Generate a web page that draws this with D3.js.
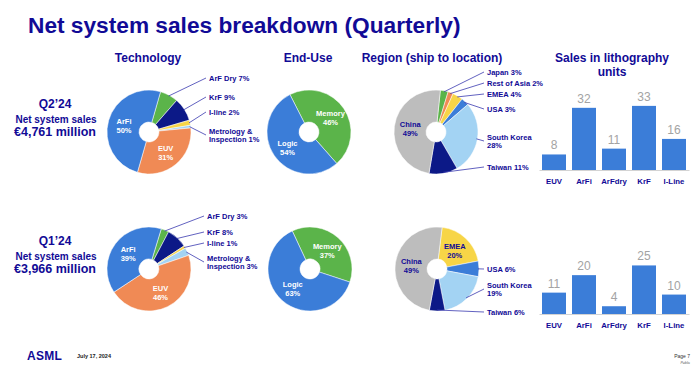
<!DOCTYPE html>
<html>
<head>
<meta charset="utf-8">
<script src="https://cdn.jsdelivr.net/npm/d3@7"></script>
<style>
  body { margin: 0; background: #fff; }
  svg { display: block; font-family: "Liberation Sans", Arial, sans-serif; }
</style>
</head>
<body>
<svg id="chart" width="695" height="387"></svg>
<script>
// data
const quarters = ["Q2\u201924", "Q1\u201924"];
const salesText = ["\u20ac4,761 million", "\u20ac3,966 million"];

const techCats = ["ArF Dry", "KrF", "I-line", "Metrology & Inspection", "EUV", "ArFi"];
const techQ2 = [7, 9, 2, 1, 31, 50];
const techQ1 = [3, 8, 1, 3, 46, 39];

const endCats = ["Memory", "Logic"];
const endQ2 = [46, 54];
const endQ1 = [37, 63];

const regionCatsQ2 = ["Japan", "Rest of Asia", "EMEA", "USA", "South Korea", "Taiwan", "China"];
const regionQ2 = [3, 2, 4, 3, 28, 11, 49];
const regionCatsQ1 = ["EMEA", "USA", "South Korea", "Taiwan", "China"];
const regionQ1 = [20, 6, 19, 6, 49];

const unitCats = ["EUV", "ArFi", "ArFdry", "KrF", "I-Line"];
const unitsQ2 = [8, 32, 11, 33, 16];
const unitsQ1 = [11, 20, 4, 25, 10];

// colours
const navy = "#110a96";
const colors = {
  "ArFi": "#3b7dd8", "EUV": "#f08a55", "ArF Dry": "#5bb44a", "KrF": "#0c1987",
  "I-line": "#f7d547", "Metrology & Inspection": "#a3d3f3",
  "Memory": "#5bb44a", "Logic": "#3b7dd8",
  "China": "#bdbdbd", "Taiwan": "#0c1987", "South Korea": "#a3d3f3", "USA": "#3b7dd8",
  "EMEA": "#f7d547", "Rest of Asia": "#f08a55", "Japan": "#5bb44a"
};

const svg = d3.select("#chart");
const R = 42, HOLE = 10;
const rowY = [132, 269];

// title
svg.append("text").attr("x", 28).attr("y", 33)
  .attr("fill", navy).attr("font-weight", "bold").attr("font-size", 22.7)
  .text("Net system sales breakdown (Quarterly)");

// column headers
const headers = [
  { x: 148, lines: ["Technology"] },
  { x: 308, lines: ["End-Use"] },
  { x: 432, lines: ["Region (ship to location)"] },
  { x: 612, lines: ["Sales in lithography", "units"] }
];
headers.forEach(h => {
  h.lines.forEach((l, i) => {
    svg.append("text").attr("x", h.x).attr("y", 62 + i * 14)
      .attr("text-anchor", "middle").attr("fill", navy)
      .attr("font-weight", "bold").attr("font-size", 12)
      .text(l);
  });
});

// row labels
quarters.forEach((q, i) => {
  const base = [108, 245][i];
  const g = svg.append("g").attr("fill", navy).attr("font-weight", "bold").attr("text-anchor", "middle");
  g.append("text").attr("x", 55).attr("y", base).attr("font-size", 12).text(q);
  g.append("text").attr("x", 56).attr("y", base + 14.5).attr("font-size", 10).text("Net system sales");
  g.append("text").attr("x", 55).attr("y", base + 28).attr("font-size", 12.5).text(salesText[i]);
});

function drawDonut(opts) {
  const g = svg.append("g").attr("transform", `translate(${opts.cx},${opts.cy})`);
  const items = opts.cats.map((c, i) => ({ name: c, value: opts.values[i] }));
  const pie = d3.pie().sort(null).value(d => d.value)
    .startAngle(opts.start).endAngle(opts.start + 2 * Math.PI);
  const arcs = pie(items);
  const arc = d3.arc().innerRadius(HOLE).outerRadius(R);
  const edge = d3.arc().innerRadius(R - 1).outerRadius(R - 1);
  const mid = d3.arc().innerRadius(26).outerRadius(26);

  g.selectAll("path.slice").data(arcs).join("path")
    .attr("class", "slice")
    .attr("d", arc)
    .attr("fill", d => colors[d.data.name])
    .attr("stroke", "#fff").attr("stroke-width", 0.5);

  const inside = arcs.filter(d => opts.inside.includes(d.data.name) && d.data.value >= 10);
  const outside = arcs.filter(d => !inside.includes(d));

  inside.forEach(d => {
    const [x, y] = mid.centroid(d);
    const t = g.append("text").attr("text-anchor", "middle")
      .attr("fill", opts.insideColor).attr("font-weight", "bold").attr("font-size", 7.5);
    t.append("tspan").attr("x", x).attr("y", y - 1).text(d.data.name);
    t.append("tspan").attr("x", x).attr("y", y + 8).text(d.data.value + "%");
  });

  outside.forEach((d, i) => {
    const [sx, sy] = edge.centroid(d);
    const ly = opts.calloutDy[i];
    const lx = opts.calloutDx;
    let lines;
    if (d.data.name === "Metrology & Inspection") lines = ["Metrology &", "Inspection " + d.data.value + "%"];
    else if (d.data.name === "South Korea") lines = ["South Korea", d.data.value + "%"];
    else lines = [d.data.name + " " + d.data.value + "%"];
    const blockMid = ly + (lines.length - 1) * 4;
    g.append("line")
      .attr("x1", sx).attr("y1", sy)
      .attr("x2", lx - 3).attr("y2", blockMid)
      .attr("stroke", "#3a3ab0").attr("stroke-width", 0.8);
    const t = g.append("text").attr("fill", navy).attr("font-weight", "bold").attr("font-size", 7.5);
    lines.forEach((l, k) => {
      t.append("tspan").attr("x", lx).attr("y", ly + 2.7 + k * 8.5).text(l);
    });
  });
}

const deg = Math.PI / 180;

// technology
drawDonut({ cx: 149, cy: rowY[0], cats: techCats, values: techQ2, start: 16 * deg,
  inside: ["ArFi", "EUV"], insideColor: "#fff", calloutDx: 60, calloutDy: [-54, -35, -20, -1] });
drawDonut({ cx: 149, cy: rowY[1], cats: techCats, values: techQ1, start: 17 * deg,
  inside: ["ArFi", "EUV"], insideColor: "#fff", calloutDx: 58, calloutDy: [-53, -37, -26, -11] });

// end use
drawDonut({ cx: 309, cy: rowY[0], cats: endCats, values: endQ2, start: -27 * deg,
  inside: endCats, insideColor: "#fff", calloutDx: 60, calloutDy: [] });
drawDonut({ cx: 310, cy: rowY[1], cats: endCats, values: endQ1, start: -25 * deg,
  inside: endCats, insideColor: "#fff", calloutDx: 60, calloutDy: [] });

// region
drawDonut({ cx: 436, cy: rowY[0], cats: regionCatsQ2, values: regionQ2, start: 6 * deg,
  inside: ["China", "EMEA"], insideColor: navy, calloutDx: 51, calloutDy: [-60, -49, -38, -23, 5, 35] });
drawDonut({ cx: 437, cy: rowY[1], cats: regionCatsQ1, values: regionQ1, start: 7 * deg,
  inside: ["China", "EMEA"], insideColor: navy, calloutDx: 50, calloutDy: [0, 16, 43] });

// lithography unit bars
const x = d3.scaleBand().domain(unitCats).range([539, 689]).paddingInner(0.2).paddingOuter(0.1);
const h = d3.scaleLinear().domain([0, 35]).range([0, 68]);
[[unitsQ2, 170], [unitsQ1, 314]].forEach(([vals, base]) => {
  const g = svg.append("g");
  const rows = unitCats.map((c, i) => ({ cat: c, v: vals[i] }));
  g.selectAll("rect").data(rows).join("rect")
    .attr("x", d => x(d.cat)).attr("width", x.bandwidth())
    .attr("y", d => base - h(d.v)).attr("height", d => h(d.v))
    .attr("fill", "#3b7dd8");
  g.selectAll("text.val").data(rows).join("text")
    .attr("class", "val")
    .attr("x", d => x(d.cat) + x.bandwidth() / 2)
    .attr("y", d => base - h(d.v) - 5)
    .attr("text-anchor", "middle").attr("fill", "#a3a3a3").attr("font-size", 12)
    .text(d => d.v);
  const ax = g.append("g").attr("transform", `translate(0,${base})`)
    .call(d3.axisBottom(x).tickSize(0).tickPadding(8.5));
  ax.select(".domain").attr("stroke", "#d3d3d3").attr("stroke-width", 1);
  ax.selectAll("text").attr("fill", navy).attr("font-weight", "bold")
    .attr("font-size", 7.8).attr("font-family", "Liberation Sans, Arial, sans-serif");
});

// footer
svg.append("text").attr("x", 27).attr("y", 360).attr("fill", navy)
  .attr("font-weight", "bold").attr("font-size", 12).attr("letter-spacing", 0.3).text("ASML");
svg.append("text").attr("x", 77).attr("y", 358).attr("fill", "#222")
  .attr("font-weight", "bold").attr("font-size", 5.5).text("July 17, 2024");
svg.append("text").attr("x", 690).attr("y", 358).attr("text-anchor", "end")
  .attr("fill", "#333").attr("font-size", 5).text("Page 7");
svg.append("text").attr("x", 690).attr("y", 364).attr("text-anchor", "end")
  .attr("fill", "#555").attr("font-style", "italic").attr("font-size", 3.5).text("Public");
</script>
</body>
</html>
